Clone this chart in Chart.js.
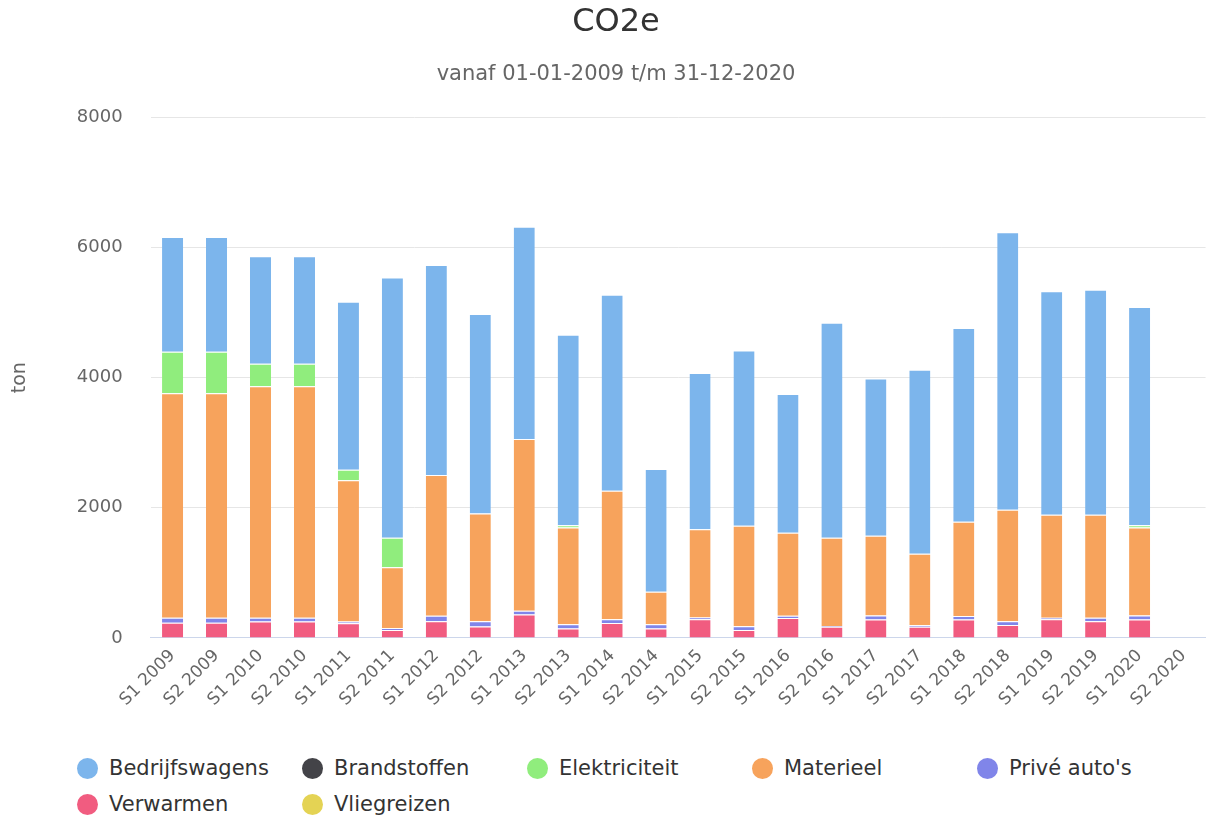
<!DOCTYPE html>
<html>
<head>
<meta charset="utf-8">
<script src="https://cdn.jsdelivr.net/npm/chart.js@4/dist/chart.umd.min.js"></script>
<style>
  html, body { margin: 0; padding: 0; background: #fff; }
  body { width: 1206px; height: 818px; position: relative; overflow: hidden; font-family: "DejaVu Sans", sans-serif; }
  #wrap { position: absolute; left: 0; top: 0; width: 1206px; height: 745px; }
  #legend { position: absolute; left: 77px; top: 755px; width: 1125px; display: grid;
            grid-template-columns: repeat(5, 225px); row-gap: 10px; }
  .item { display: flex; align-items: center; font-size: 21px; color: #333; height: 26px; white-space: nowrap; }
  .dot { width: 21px; height: 21px; border-radius: 50%; margin-right: 11px; flex: none; }
</style>
</head>
<body>
<div id="wrap"><canvas id="co2Chart"></canvas></div>
<div id="legend"></div>
<script>
// categorieën (halfjaren)
const periods = ["S1 2009","S2 2009","S1 2010","S2 2010","S1 2011","S2 2011","S1 2012","S2 2012",
  "S1 2013","S2 2013","S1 2014","S2 2014","S1 2015","S2 2015","S1 2016","S2 2016",
  "S1 2017","S2 2017","S1 2018","S2 2018","S1 2019","S2 2019","S1 2020","S2 2020"];

// waarden in ton CO2e per bron
const bedrijfswagens = [1765,1765,1652,1652,2584,4005,3231,3067,3266,2930,3015,1887,2400,2697,2134,3308,2420,2831,2979,4267,3436,3462,3355,0];
const brandstoffen   = [0,0,0,0,0,0,0,0,0,0,0,0,0,0,0,0,0,0,0,0,0,0,0,0];
const elektriciteit  = [638,638,346,346,162,453,0,0,0,35,0,0,0,0,0,0,0,0,0,0,0,0,35,0];
const materieel      = [3454,3454,3561,3561,2173,935,2162,1657,2639,1489,1975,500,1357,1544,1275,1354,1225,1097,1447,1715,1582,1584,1353,0];
const priveAutos     = [75,75,57,57,25,30,87,82,59,62,59,62,30,56,35,12,62,25,56,54,25,54,62,0];
const verwarmen      = [233,233,251,251,225,120,254,174,359,146,228,146,285,123,305,172,282,170,282,200,285,254,282,0];
const vliegreizen    = [0,0,0,0,0,0,0,0,0,0,0,0,0,0,0,0,0,0,0,0,0,0,0,0];

const yTicks = [0, 2000, 4000, 6000, 8000];

// legenda-volgorde (zoals in de grafiek)
const series = [
  { label: "Bedrijfswagens", data: bedrijfswagens, color: "#7cb5ec" },
  { label: "Brandstoffen",   data: brandstoffen,   color: "#434348" },
  { label: "Elektriciteit",  data: elektriciteit,  color: "#90ed7d" },
  { label: "Materieel",      data: materieel,      color: "#f7a35c" },
  { label: "Privé auto's",   data: priveAutos,     color: "#8085e9" },
  { label: "Verwarmen",      data: verwarmen,      color: "#f15c80" },
  { label: "Vliegreizen",    data: vliegreizen,    color: "#e4d354" }
];

// eerste serie bovenaan de stapel -> omgekeerd aan Chart.js geven
const datasets = series.slice().reverse().map(s => ({
  label: s.label,
  data: s.data,
  backgroundColor: s.color,
  borderColor: "#ffffff",
  borderWidth: { top: 1, left: 0, right: 0, bottom: 0 },
  borderSkipped: false,
  barPercentage: 0.48,
  categoryPercentage: 1.0
}));

const FONT = "'DejaVu Sans', sans-serif";

new Chart(document.getElementById("co2Chart"), {
  type: "bar",
  data: { labels: periods, datasets: datasets },
  options: {
    responsive: true,
    maintainAspectRatio: false,
    animation: false,
    layout: { padding: { left: 26, right: 0, top: 0, bottom: 27 } },
    plugins: {
      legend: { display: false },
      tooltip: { enabled: false },
      title: {
        display: true,
        text: "CO2e",
        color: "#333333",
        font: { family: FONT, size: 32, weight: "normal" },
        padding: { top: 3, bottom: 21 }
      },
      subtitle: {
        display: true,
        text: "vanaf 01-01-2009 t/m 31-12-2020",
        color: "#666666",
        font: { family: FONT, size: 21 },
        padding: { top: 0, bottom: 30 }
      }
    },
    scales: {
      x: {
        stacked: true,
        grid: { display: false, drawTicks: false },
        border: { display: true, color: "#ccd6eb", width: 1 },
        ticks: {
          color: "#666666",
          font: { family: FONT, size: 17 },
          minRotation: 45,
          maxRotation: 45,
          padding: 8
        }
      },
      y: {
        stacked: true,
        min: 0,
        max: 8000,
        afterBuildTicks: axis => { axis.ticks = yTicks.map(v => ({ value: v })); },
        grid: { color: "#e6e6e6", drawTicks: false },
        border: { display: false },
        ticks: {
          color: "#666666",
          font: { family: FONT, size: 18 },
          padding: 28,
          callback: v => String(v)
        },
        title: {
          display: true,
          text: "ton",
          color: "#666666",
          font: { family: FONT, size: 19 },
          padding: { top: -17, bottom: 17 }
        }
      }
    }
  }
});

// HTML-legenda in vaste kolommen
const legendEl = document.getElementById("legend");
series.forEach(s => {
  const item = document.createElement("div");
  item.className = "item";
  const dot = document.createElement("span");
  dot.className = "dot";
  dot.style.background = s.color;
  const txt = document.createElement("span");
  txt.textContent = s.label;
  item.appendChild(dot);
  item.appendChild(txt);
  legendEl.appendChild(item);
});
</script>
</body>
</html>
